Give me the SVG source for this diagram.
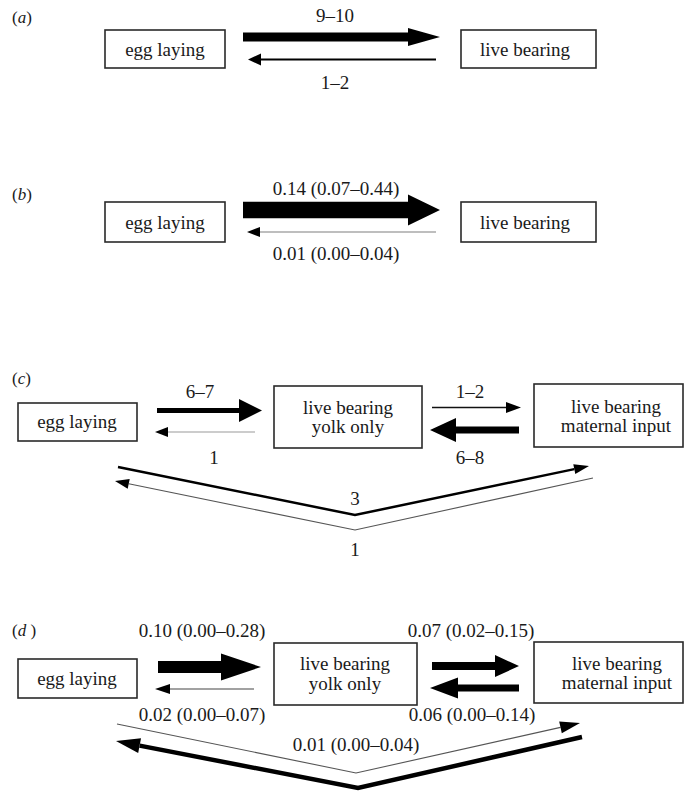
<svg xmlns="http://www.w3.org/2000/svg" width="684" height="792" viewBox="0 0 684 792">
<style>
text{font-family:"Liberation Serif","Times New Roman",serif;fill:#1a1a1a}
.lab{font-size:19px;text-anchor:middle}
.node{font-size:19px;text-anchor:middle}
.panel{font-size:17px}
.box{fill:#fff;stroke:#2a2a2a;stroke-width:1.6}
.fill{fill:#000;stroke:none}
.thin{fill:none;stroke:#000;stroke-width:2}
.faint{fill:none;stroke:#a8a8a8;stroke-width:1.3}
.line{fill:none;stroke:#111;stroke-width:1.6}
.vthin{fill:none;stroke:#555;stroke-width:1.1;stroke-linejoin:miter}
.vmed{fill:none;stroke:#000;stroke-width:2.5;stroke-linejoin:miter}
.vthick{fill:none;stroke:#000;stroke-width:4.5;stroke-linejoin:miter}
</style>
<rect width="684" height="792" fill="#fff"/>

<!-- panel labels -->
<text class="panel" x="12" y="23">(<tspan font-style="italic">a</tspan>)</text>
<text class="panel" x="12" y="200">(<tspan font-style="italic">b</tspan>)</text>
<text class="panel" x="12" y="384">(<tspan font-style="italic">c</tspan>)</text>
<text class="panel" x="12" y="636">(<tspan font-style="italic">d</tspan> )</text>

<!-- nodes (a) -->
<g id="a-egg"><rect class="box" x="105" y="30" width="120" height="38"/><text class="node" x="165" y="56">egg laying</text></g>
<g id="a-live"><rect class="box" x="461" y="30" width="135" height="38"/><text class="node" x="525" y="56">live bearing</text></g>
<!-- nodes (b) -->
<g id="b-egg"><rect class="box" x="105" y="202" width="120" height="40"/><text class="node" x="165" y="229">egg laying</text></g>
<g id="b-live"><rect class="box" x="461" y="202" width="135" height="40"/><text class="node" x="525" y="229">live bearing</text></g>
<!-- nodes (c) -->
<g id="c-egg"><rect class="box" x="18" y="403" width="119" height="38"/><text class="node" x="77" y="428">egg laying</text></g>
<g id="c-yolk"><rect class="box" x="274" y="386" width="148" height="62"/><text class="node" x="348" y="414">live bearing</text><text class="node" x="348" y="433">yolk only</text></g>
<g id="c-mat"><rect class="box" x="534" y="384" width="149" height="63"/><text class="node" x="616" y="413">live bearing</text><text class="node" x="616" y="432">maternal input</text></g>
<!-- nodes (d) -->
<g id="d-egg"><rect class="box" x="18" y="659" width="119" height="39"/><text class="node" x="77" y="685">egg laying</text></g>
<g id="d-yolk"><rect class="box" x="274" y="643" width="143" height="62"/><text class="node" x="345" y="670">live bearing</text><text class="node" x="345" y="690">yolk only</text></g>
<g id="d-mat"><rect class="box" x="534" y="642" width="149" height="61"/><text class="node" x="617" y="670">live bearing</text><text class="node" x="617" y="689">maternal input</text></g>

<g id="connectors">
  <!-- (a) -->
  <polygon class="fill" points="243,32.5 408,32.5 408,28 440,37 408,46 408,41.5 243,41.5"/>
  <line class="thin" x1="436" y1="59.5" x2="258" y2="59.5"/>
  <polygon class="fill" points="248,59.5 261,53.5 261,65.5"/>
  <!-- (b) -->
  <polygon class="fill" points="243,201.7 408,201.7 408,194.5 440,210 408,225.5 408,218.3 243,218.3"/>
  <line class="faint" x1="436" y1="232" x2="258" y2="232"/>
  <polygon class="fill" points="247,232 260,227 260,237"/>
  <!-- (c) -->
  <polygon class="fill" points="157,408 239,408 239,399 262,410.5 239,422 239,413 157,413"/>
  <line class="faint" x1="255" y1="432" x2="166" y2="432" style="stroke:#999;stroke-width:1"/>
  <polygon class="fill" points="155,432 168,427 168,437"/>
  <line class="line" x1="432" y1="407.5" x2="507" y2="407.5"/>
  <polygon class="fill" points="521,407.5 506,402 506,413"/>
  <polygon class="fill" points="519,426.5 456,426.5 456,418 430,430 456,442 456,433.5 519,433.5"/>
  <polyline class="vmed" points="118,467 355,515 574.3,469.1"/>
  <polygon class="fill" points="589,466 575.3,474 573.3,464.2"/>
  <polyline class="vthin" points="593,478 355,530 128.7,483.8"/>
  <polygon class="fill" points="115,481 129.7,478.9 127.7,488.7"/>
  <!-- (d) -->
  <polygon class="fill" points="158,661 221,661 221,653.5 261,667 221,680.5 221,673 158,673"/>
  <line class="line" x1="254" y1="689" x2="168" y2="689" style="stroke:#444;stroke-width:1.2"/>
  <polygon class="fill" points="155,689 170,684 170,694"/>
  <polygon class="fill" points="432,662 495,662 495,655 519,666 495,677 495,670 432,670"/>
  <polygon class="fill" points="519,684.5 458,684.5 458,677.5 430,688 458,698.5 458,691.5 519,691.5"/>
  <polyline class="vthin" points="117,724 356,773 560.5,727.4"/>
  <polygon class="fill" points="580,723 561.8,733.2 559.2,721.5"/>
  <polyline class="vthick" points="582,737 358,788 139.6,745.6"/>
  <polygon class="fill" points="116,741 141,738.2 138.2,752.9"/>
</g>

<g id="labels">
  <text class="lab" x="335" y="22">9–10</text>
  <text class="lab" x="335" y="89">1–2</text>
  <text class="lab" x="336" y="195">0.14 (0.07–0.44)</text>
  <text class="lab" x="336" y="260">0.01 (0.00–0.04)</text>
  <text class="lab" x="200" y="398">6–7</text>
  <text class="lab" x="214" y="464">1</text>
  <text class="lab" x="470" y="398">1–2</text>
  <text class="lab" x="470" y="464">6–8</text>
  <text class="lab" x="355" y="505">3</text>
  <text class="lab" x="355" y="556">1</text>
  <text class="lab" x="202" y="637">0.10 (0.00–0.28)</text>
  <text class="lab" x="471" y="637">0.07 (0.02–0.15)</text>
  <text class="lab" x="202" y="721">0.02 (0.00–0.07)</text>
  <text class="lab" x="472" y="721">0.06 (0.00–0.14)</text>
  <text class="lab" x="356" y="751">0.01 (0.00–0.04)</text>
</g>
</svg>
